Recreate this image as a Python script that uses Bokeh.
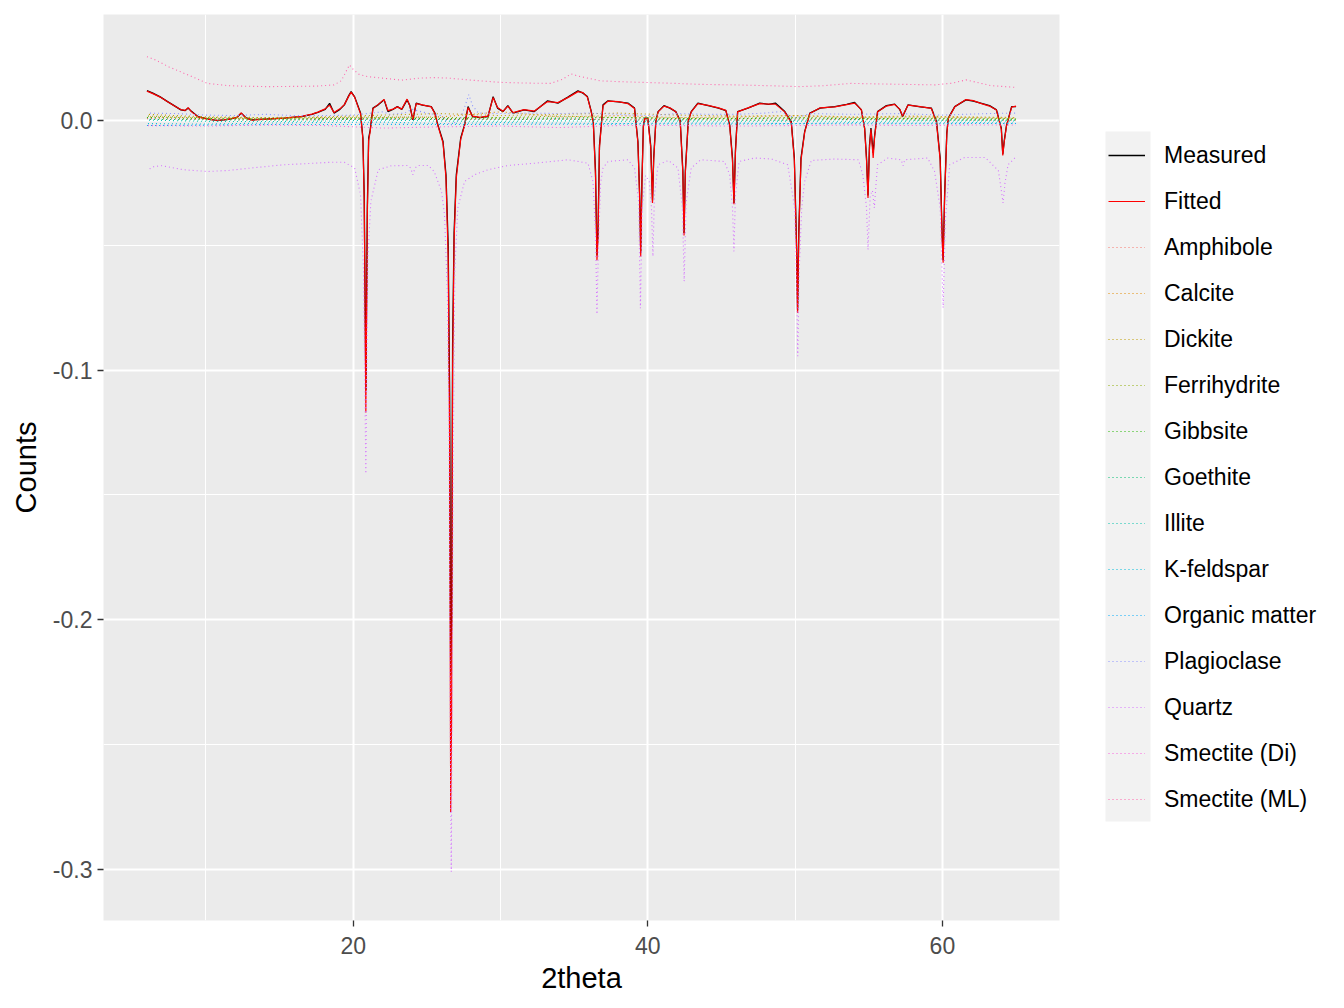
from bokeh.plotting import figure
from bokeh.models import (Range1d, FixedTicker, Legend, LegendItem, BoxAnnotation)
from bokeh.layouts import row
from bokeh.embed import file_html
from bokeh.resources import INLINE

# ---------------- data ----------------
two_theta = [6.0, 6.4, 6.9, 7.4, 7.9, 8.3, 8.6, 8.8, 9.0, 9.45, 10.1, 10.8, 11.5, 12.1, 12.4, 12.7,
             13.1, 14.2, 15.3, 16.5, 17.2, 17.6, 18.1, 18.4, 18.7, 19.1, 19.4, 19.7, 19.86, 20.1,
             20.3, 20.5, 20.66, 20.75, 20.82, 20.86, 20.9, 20.96, 21.05, 21.15, 21.34, 21.7, 22.1,
             22.36, 22.7, 23.0, 23.3, 23.66, 23.85, 24.05, 24.28, 24.7, 25.3, 25.55, 25.75, 26.1,
             26.3, 26.45, 26.55, 26.62, 26.68, 26.75, 26.85, 27.0, 27.3, 27.56, 27.8, 28.1, 28.6,
             29.15, 29.5, 29.8, 30.17, 30.5, 30.85, 31.6, 32.3, 33.2, 33.9, 34.6, 35.26, 35.6, 35.9,
             36.15, 36.3, 36.45, 36.55, 36.62, 36.72, 36.96, 37.3, 38.0, 38.65, 39.1, 39.33, 39.45,
             39.52, 39.6, 39.7, 39.8, 40.0, 40.2, 40.32, 40.4, 40.55, 40.7, 41.1, 41.5, 41.9, 42.2,
             42.38, 42.46, 42.55, 42.75, 42.95, 43.4, 44.1, 44.8, 45.3, 45.56, 45.75, 45.85, 45.95,
             46.1, 46.8, 47.6, 48.2, 48.66, 49.3, 49.74, 49.95, 50.1, 50.17, 50.25, 50.4, 50.65,
             51.0, 51.7, 52.7, 53.5, 54.04, 54.5, 54.72, 54.85, 54.95, 55.05, 55.15, 55.3, 55.4,
             55.6, 56.2, 56.76, 57.1, 57.3, 57.67, 58.5, 59.25, 59.6, 59.85, 59.98, 60.05, 60.15,
             60.3, 60.4, 60.84, 61.6, 62.1, 62.6, 63.2, 63.67, 64.0, 64.1, 64.2, 64.35, 64.7, 65.0]

measured = [0.0120, 0.0110, 0.0095, 0.0076, 0.0058, 0.0043, 0.0040, 0.0050, 0.0038, 0.0016, 0.0007,
            0.0000, 0.0005, 0.0012, 0.0030, 0.0012, 0.0003, 0.0007, 0.0010, 0.0016, 0.0025, 0.0033,
            0.0045, 0.0069, 0.0030, 0.0045, 0.0063, 0.0100, 0.0116, 0.0095, 0.0063, 0.0030, -0.0070,
            -0.0300, -0.0800, -0.1080, -0.0800, -0.0350, -0.0070, -0.0040, 0.0050, 0.0063, 0.0083,
            0.0036, 0.0045, 0.0056, 0.0045, 0.0083, 0.0060, 0.0003, 0.0070, 0.0062, 0.0056, 0.0030,
            -0.0017, -0.0084, -0.0217, -0.0500, -0.1100, -0.2220, -0.2000, -0.0900, -0.0450, -0.0217,
            -0.0070, -0.0017, 0.0056, 0.0016, 0.0012, 0.0016, 0.0096, 0.0050, 0.0036, 0.0060, 0.0030,
            0.0043, 0.0036, 0.0079, 0.0070, 0.0095, 0.0119, 0.0110, 0.0096, 0.0040, -0.0004, -0.0200,
            -0.0540, -0.0450, -0.0100, 0.0063, 0.0079, 0.0075, 0.0070, 0.0050, -0.0084, -0.0300,
            -0.0530, -0.0250, -0.0020, 0.0010, 0.0010, -0.0100, -0.0320, -0.0150, 0.0000, 0.0036,
            0.0060, 0.0050, 0.0036, 0.0000, -0.0200, -0.0450, -0.0200, 0.0000, 0.0036, 0.0070,
            0.0060, 0.0050, 0.0040, -0.0017, -0.0150, -0.0330, -0.0120, 0.0036, 0.0050, 0.0070,
            0.0065, 0.0070, 0.0036, -0.0004, -0.0150, -0.0500, -0.0760, -0.0450, -0.0150, -0.0044,
            0.0030, 0.0050, 0.0056, 0.0065, 0.0073, 0.0043, -0.0030, -0.0150, -0.0300, -0.0100,
            -0.0030, -0.0130, -0.0060, 0.0036, 0.0060, 0.0066, 0.0045, 0.0016, 0.0063, 0.0055,
            0.0050, -0.0004, -0.0150, -0.0450, -0.0560, -0.0300, -0.0050, 0.0010, 0.0056, 0.0083,
            0.0078, 0.0070, 0.0060, 0.0043, -0.0030, -0.0135, -0.0080, -0.0020, 0.0056, 0.0056]

fitted = [0.0118, 0.0108, 0.0094, 0.0075, 0.0057, 0.0044, 0.0041, 0.0052, 0.0037, 0.0015, 0.0006,
          0.0001, 0.0005, 0.0013, 0.0031, 0.0011, 0.0002, 0.0006, 0.0010, 0.0017, 0.0026, 0.0034,
          0.0047, 0.0062, 0.0032, 0.0047, 0.0064, 0.0098, 0.0114, 0.0094, 0.0060, 0.0028, -0.0075,
          -0.0320, -0.0850, -0.1170, -0.0850, -0.0380, -0.0080, -0.0045, 0.0048, 0.0065, 0.0085,
          0.0040, 0.0046, 0.0055, 0.0046, 0.0086, 0.0058, 0.0005, 0.0068, 0.0063, 0.0055, 0.0028,
          -0.0020, -0.0090, -0.0230, -0.0550, -0.1300, -0.2770, -0.2400, -0.1000, -0.0480, -0.0230,
          -0.0075, -0.0020, 0.0052, 0.0018, 0.0013, 0.0018, 0.0092, 0.0052, 0.0037, 0.0058, 0.0032,
          0.0044, 0.0038, 0.0076, 0.0072, 0.0093, 0.0116, 0.0112, 0.0094, 0.0038, -0.0008, -0.0220,
          -0.0560, -0.0470, -0.0110, 0.0060, 0.0078, 0.0076, 0.0068, 0.0048, -0.0090, -0.0320,
          -0.0545, -0.0260, -0.0025, 0.0008, 0.0008, -0.0110, -0.0330, -0.0160, -0.0003, 0.0035,
          0.0058, 0.0051, 0.0035, -0.0003, -0.0210, -0.0460, -0.0210, -0.0002, 0.0035, 0.0068,
          0.0061, 0.0051, 0.0041, -0.0020, -0.0160, -0.0335, -0.0130, 0.0035, 0.0051, 0.0068,
          0.0066, 0.0066, 0.0035, -0.0008, -0.0160, -0.0520, -0.0770, -0.0460, -0.0160, -0.0046,
          0.0028, 0.0051, 0.0055, 0.0064, 0.0070, 0.0044, -0.0032, -0.0160, -0.0310, -0.0110,
          -0.0035, -0.0150, -0.0065, 0.0035, 0.0058, 0.0065, 0.0046, 0.0018, 0.0062, 0.0056,
          0.0049, -0.0008, -0.0160, -0.0470, -0.0570, -0.0310, -0.0055, 0.0008, 0.0055, 0.0084,
          0.0080, 0.0069, 0.0058, 0.0042, -0.0035, -0.0140, -0.0085, -0.0022, 0.0054, 0.0058]

quartz_x = [6.06, 6.5, 7.0, 8.5, 10.1, 11.5, 13.1, 15.3, 17.0, 18.5, 19.4, 20.1, 20.5, 20.7, 20.8,
            20.86, 20.92, 21.0, 21.2, 21.7, 22.6, 23.7, 23.9, 24.05, 24.2, 24.4, 25.1, 25.5, 26.0,
            26.2, 26.4, 26.5, 26.6, 26.66, 26.72, 26.8, 26.9, 27.1, 27.56, 28.24, 29.15, 30.5, 32.3,
            34.6, 35.94, 36.28, 36.45, 36.55, 36.65, 36.8, 36.96, 37.3, 38.65, 39.1, 39.38, 39.5,
            39.62, 39.85, 40.1, 40.25, 40.35, 40.45, 40.7, 41.4, 42.05, 42.35, 42.47, 42.6, 42.95,
            43.6, 45.2, 45.56, 45.75, 45.85, 45.95, 46.2, 47.25, 48.4, 49.5, 49.97, 50.1, 50.18,
            50.28, 50.45, 50.65, 51.1, 52.7, 54.3, 54.6, 54.85, 54.95, 55.1, 55.25, 55.38, 55.5,
            55.6, 56.3, 57.2, 57.33, 57.45, 59.0, 59.47, 59.85, 60.05, 60.2, 60.5, 61.5, 62.9, 63.8,
            64.0, 64.12, 64.25, 64.46, 65.0]
quartz = [-0.0197, -0.0184, -0.0181, -0.0197, -0.0204, -0.0200, -0.0190, -0.0177, -0.0172, -0.0167,
          -0.0167, -0.0190, -0.0297, -0.0600, -0.1100, -0.1415, -0.1000, -0.0550, -0.0324, -0.0197,
          -0.0181, -0.0180, -0.0190, -0.0217, -0.0190, -0.0180, -0.0180, -0.0204, -0.0284, -0.0377,
          -0.0700, -0.1200, -0.2500, -0.3010, -0.2300, -0.1300, -0.0600, -0.0350, -0.0244, -0.0217,
          -0.0197, -0.0180, -0.0171, -0.0157, -0.0171, -0.0244, -0.0450, -0.0776, -0.0500, -0.0250,
          -0.0190, -0.0164, -0.0157, -0.0190, -0.0324, -0.0752, -0.0350, -0.0220, -0.0244, -0.0350,
          -0.0544, -0.0300, -0.0177, -0.0160, -0.0190, -0.0350, -0.0644, -0.0330, -0.0190, -0.0157,
          -0.0164, -0.0217, -0.0350, -0.0524, -0.0300, -0.0164, -0.0150, -0.0154, -0.0177, -0.0350,
          -0.0650, -0.0944, -0.0600, -0.0350, -0.0244, -0.0160, -0.0154, -0.0157, -0.0217, -0.0350,
          -0.0517, -0.0300, -0.0280, -0.0350, -0.0250, -0.0177, -0.0150, -0.0157, -0.0181, -0.0157,
          -0.0150, -0.0204, -0.0350, -0.0750, -0.0400, -0.0177, -0.0148, -0.0148, -0.0200, -0.0280,
          -0.0330, -0.0250, -0.0177, -0.0145]

smec_ml_x = [6.0, 6.5, 7.5, 8.5, 9.5, 10.1, 11.5, 12.5, 14.2, 16.0, 17.5, 18.7, 19.2, 19.5, 19.75,
             20.0, 20.4, 21.0, 22.0, 23.3, 24.5, 25.5, 26.5, 28.0, 30.0, 32.0, 33.4, 34.2, 34.8,
             35.3, 36.8, 38.5, 41.4, 43.6, 45.9, 48.0, 50.4, 52.0, 53.8, 55.5, 57.5, 59.5, 60.7,
             61.6, 62.2, 63.3, 65.0]
smec_ml = [0.0256, 0.0245, 0.0215, 0.0190, 0.0165, 0.0149, 0.0140, 0.0138, 0.0136, 0.0137, 0.0138,
           0.0143, 0.0160, 0.0195, 0.0223, 0.0205, 0.0185, 0.0176, 0.0170, 0.0162, 0.0170, 0.0172,
           0.0170, 0.0162, 0.0153, 0.0150, 0.0149, 0.0165, 0.0187, 0.0178, 0.0159, 0.0155, 0.0150,
           0.0145, 0.0143, 0.0140, 0.0136, 0.0140, 0.0149, 0.0147, 0.0145, 0.0143, 0.0150, 0.0163,
           0.0155, 0.0140, 0.0133]

plag_x = [6.0, 8.0, 10.0, 12.0, 14.0, 16.0, 18.0, 20.0, 22.0, 22.5, 23.5, 24.0, 25.0, 26.0, 26.6,
          27.3, 27.6, 27.85, 28.1, 28.5, 30.0, 32.0, 34.0, 36.0, 38.0, 40.0, 42.0, 44.0, 46.0,
          48.0, 49.0, 50.0, 51.0, 54.0, 57.0, 60.0, 63.0, 65.0]
plagioclase = [0.0030, 0.0028, 0.0022, 0.0020, 0.0025, 0.0020, 0.0020, 0.0022, 0.0035, 0.0025,
               0.0030, 0.0045, 0.0030, 0.0020, -0.0020, 0.0010, 0.0060, 0.0104, 0.0060, 0.0030,
               0.0028, 0.0030, 0.0028, 0.0030, 0.0025, 0.0020, 0.0028, 0.0025, 0.0025, 0.0030,
               0.0036, 0.0010, 0.0028, 0.0025, 0.0028, 0.0022, 0.0028, 0.0030]

phase_x = [6, 10, 14, 18, 22, 26, 30, 34, 38, 42, 46, 50, 54, 58, 62, 65]
amphibole = [0.0008, 0.0004, 0.0002, 0.0003, 0.0006, 0.0005, 0.0004, 0.0006, 0.0003, 0.0004,
             0.0002, 0.0003, 0.0004, 0.0003, 0.0002, 0.0002]
calcite = [0.0015, 0.0010, 0.0008, 0.0010, 0.0012, 0.0015, 0.0035, 0.0015, 0.0020, 0.0012,
           0.0015, 0.0020, 0.0012, 0.0015, 0.0012, 0.0010]
dickite = [0.0025, 0.0015, 0.0012, 0.0015, 0.0022, 0.0028, 0.0020, 0.0025, 0.0030, 0.0022,
           0.0018, 0.0020, 0.0015, 0.0018, 0.0015, 0.0012]
ferrihydrite = [0.0018, 0.0012, 0.0010, 0.0012, 0.0015, 0.0012, 0.0012, 0.0018, 0.0012, 0.0010,
                0.0010, 0.0012, 0.0010, 0.0010, 0.0010, 0.0008]
gibbsite = [0.0012, 0.0008, 0.0005, 0.0008, 0.0010, 0.0008, 0.0010, 0.0010, 0.0012, 0.0008,
            0.0008, 0.0010, 0.0008, 0.0008, 0.0006, 0.0006]
goethite = [0.0005, 0.0003, 0.0002, 0.0004, 0.0006, 0.0004, 0.0003, 0.0006, 0.0002, 0.0003,
            0.0002, 0.0002, 0.0004, 0.0002, 0.0002, 0.0002]
illite = [0.0002, -0.0003, -0.0004, -0.0002, 0.0002, -0.0002, -0.0003, -0.0001, -0.0003, -0.0002,
          -0.0003, -0.0002, -0.0003, -0.0002, -0.0002, -0.0002]
k_feldspar = [-0.0012, -0.0014, -0.0010, -0.0008, -0.0006, -0.0012, -0.0008, -0.0010, -0.0012,
              -0.0010, -0.0010, -0.0012, -0.0008, -0.0010, -0.0008, -0.0010]
organic_matter = [-0.0020, -0.0018, -0.0016, -0.0016, -0.0015, -0.0016, -0.0015, -0.0015, -0.0014,
                  -0.0014, -0.0014, -0.0013, -0.0013, -0.0013, -0.0012, -0.0012]
smec_di = [-0.0020, -0.0022, -0.0018, -0.0020, -0.0030, -0.0025, -0.0022, -0.0028, -0.0020,
           -0.0020, -0.0022, -0.0020, -0.0018, -0.0020, -0.0018, -0.0018]

phase_names = ["Amphibole", "Calcite", "Dickite", "Ferrihydrite", "Gibbsite", "Goethite", "Illite",
               "K-feldspar", "Organic matter", "Plagioclase", "Quartz", "Smectite (Di)",
               "Smectite (ML)"]
phase_colors = ["#F8766D", "#E18A00", "#BE9C00", "#8CAB00", "#24B700", "#00BE70", "#00C1AB",
                "#00BBDA", "#00ACFC", "#8B93FF", "#D575FE", "#F962DD", "#FF65AC"]

x_ticks = [20, 40, 60]
x_minor = [10, 30, 50]
y_ticks = [0.0, -0.1, -0.2, -0.3]
y_minor = [-0.05, -0.15, -0.25]

DOT = "1 3"

# ---------------- main panel ----------------
p = figure(width=1060, height=1008, output_backend="svg", toolbar_location=None,
           x_range=Range1d(3.05, 67.95), y_range=Range1d(-0.3205, 0.0425),
           min_border_left=103, min_border_right=1, min_border_top=14, min_border_bottom=88)
p.background_fill_color = "#EBEBEB"
p.border_fill_color = "white"
p.outline_line_color = None

p.xaxis.ticker = FixedTicker(ticks=x_ticks, minor_ticks=x_minor)
p.yaxis.ticker = FixedTicker(ticks=y_ticks, minor_ticks=y_minor)
p.yaxis.major_label_overrides = {0.0: "0.0", -0.1: "-0.1", -0.2: "-0.2", -0.3: "-0.3"}

for g in (p.xgrid, p.ygrid):
    g.grid_line_color = "white"
    g.grid_line_width = 2
    g.minor_grid_line_color = "white"
    g.minor_grid_line_width = 1

for ax in (p.xaxis, p.yaxis):
    ax.axis_line_color = None
    ax.major_tick_line_color = "#333333"
    ax.major_tick_line_width = 1.3
    ax.major_tick_out = 6
    ax.major_tick_in = 0
    ax.minor_tick_line_color = None
    ax.major_label_text_font = "Liberation Sans"
    ax.major_label_text_font_size = "23px"
    ax.major_label_text_color = "#4D4D4D"
    ax.axis_label_text_font = "Liberation Sans"
    ax.axis_label_text_font_size = "29px"
    ax.axis_label_text_font_style = "normal"
    ax.axis_label_text_color = "black"
p.xaxis.major_label_standoff = 10
p.xaxis.axis_label_standoff = 5
p.yaxis.major_label_standoff = 5
p.yaxis.axis_label_standoff = 8

p.xaxis.axis_label = "2theta"
p.yaxis.axis_label = "Counts"

p.line(two_theta, measured, line_color="black", line_width=1.3)
p.line(two_theta, fitted, line_color="red", line_width=1.2)

phase_data = {
    "Amphibole": (phase_x, amphibole),
    "Calcite": (phase_x, calcite),
    "Dickite": (phase_x, dickite),
    "Ferrihydrite": (phase_x, ferrihydrite),
    "Gibbsite": (phase_x, gibbsite),
    "Goethite": (phase_x, goethite),
    "Illite": (phase_x, illite),
    "K-feldspar": (phase_x, k_feldspar),
    "Organic matter": (phase_x, organic_matter),
    "Plagioclase": (plag_x, plagioclase),
    "Quartz": (quartz_x, quartz),
    "Smectite (Di)": (phase_x, smec_di),
    "Smectite (ML)": (smec_ml_x, smec_ml),
}
for i, (name, col) in enumerate(zip(phase_names, phase_colors)):
    xs, ys = phase_data[name]
    p.line(xs, ys, line_color=col, line_width=1.1, line_dash=DOT, line_dash_offset=i % 4)

# ---------------- legend panel (ggplot-style guide on the right) ----------------
# its frame is aligned with the main frame (page y 14 .. 920); ranges in page pixels
lg = figure(width=284, height=1008, output_backend="svg", toolbar_location=None,
            x_range=Range1d(0, 284), y_range=Range1d(920, 14),
            min_border=0, x_axis_location=None, y_axis_location=None)
lg.grid.visible = False
lg.outline_line_color = None
lg.background_fill_color = "white"
lg.border_fill_color = "white"

# legend key column background (grey95)
lg.add_layout(BoxAnnotation(left=45, right=90, top=131, bottom=821,
                            fill_color="#F2F2F2", fill_alpha=1.0, line_color=None))

# proxy renderers for the guide, parked outside the visible range
px = [-50, -40]
py = [-50, -50]
items = []
r = lg.line(px, py, line_color="black", line_width=1.3)
items.append(LegendItem(label="Measured", renderers=[r]))
r = lg.line(px, py, line_color="red", line_width=1.2)
items.append(LegendItem(label="Fitted", renderers=[r]))
for name, col in zip(phase_names, phase_colors):
    r = lg.line(px, py, line_color=col, line_width=1.1, line_dash=DOT)
    items.append(LegendItem(label=name, renderers=[r]))

legend = Legend(items=items, location=(48, 920 - 822), orientation="vertical",
                glyph_width=37, glyph_height=46, label_height=46, spacing=0,
                label_standoff=19, padding=0, margin=0,
                border_line_color=None, background_fill_alpha=0,
                label_text_font="Liberation Sans", label_text_font_size="23px",
                label_text_color="black")
lg.add_layout(legend)

layout = row(p, lg)
open("out.html", "w").write(file_html(layout, INLINE))
